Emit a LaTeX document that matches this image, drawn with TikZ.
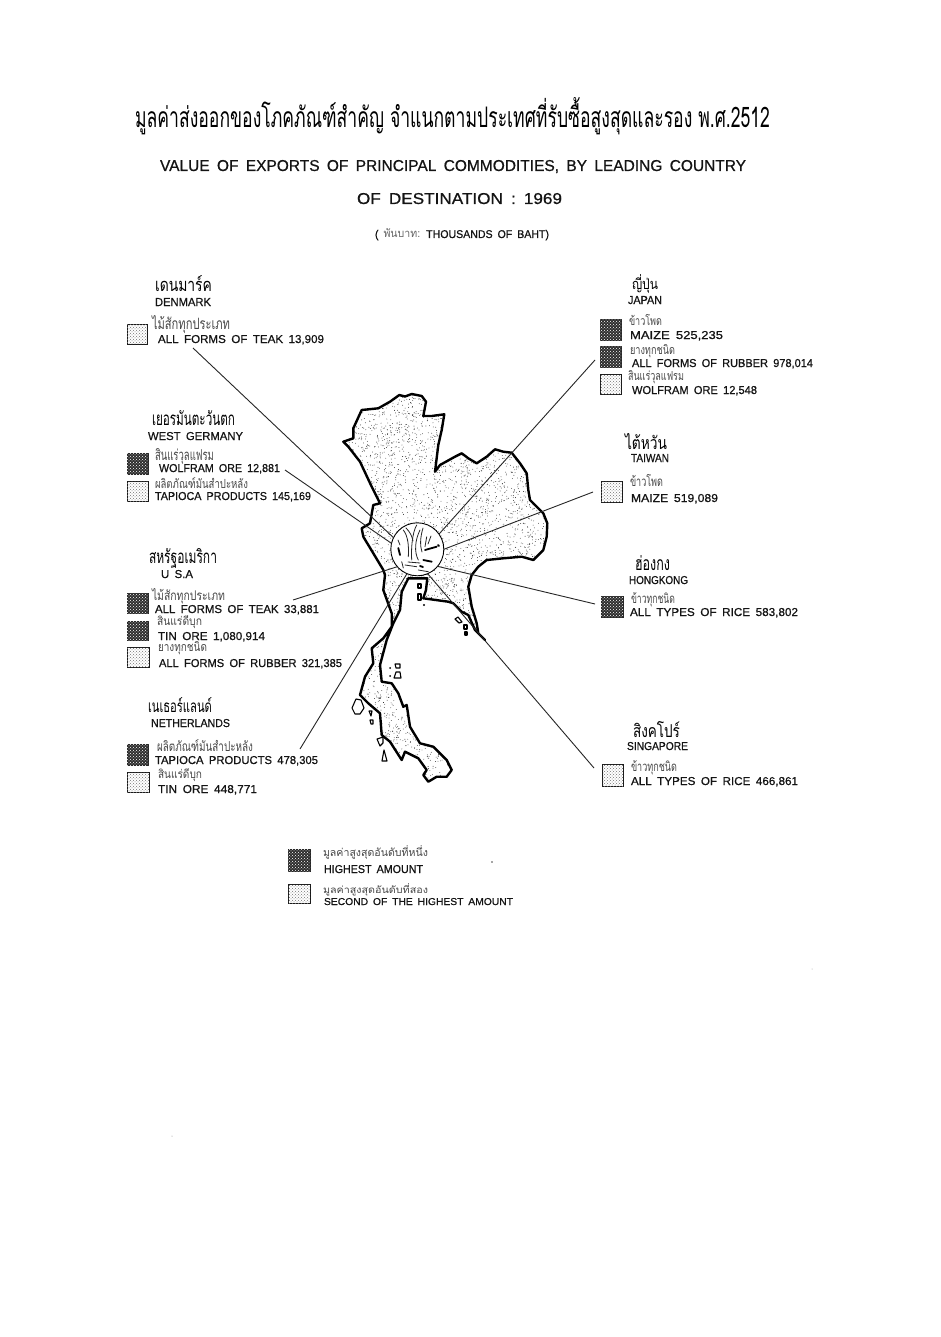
\documentclass[tikz,border=0pt]{standalone}
\usepackage{fontspec}
\usepackage{graphicx}
\usetikzlibrary{patterns}
\setmainfont[WordSpace=1.7,FakeBold=0.7]{Liberation Sans}
\newfontfamily\thaifont[Script=Thai]{Loma}
\tikzset{
  textlab/.style={inner sep=0pt,outer sep=0pt,anchor=base west,text=black!92},
  thailab/.style={inner sep=0pt,outer sep=0pt,anchor=base west,text=black!72},
  thaihead/.style={inner sep=0pt,outer sep=0pt,anchor=base west,text=black},
  swatchdark/.style={inner sep=0pt,outer sep=0pt,draw=black!85,line width=.6pt,fill=black!82,
     postaction={pattern=crosshatch dots,pattern color=white}},
  swatchlight/.style={inner sep=0pt,outer sep=0pt,draw=black!90,line width=1pt,fill=white,
     postaction={pattern=crosshatch dots,pattern color=black!55}},
  leader/.style={line width=.9pt,black!85},
  coast/.style={line width=2.4pt,line join=round,black},
  isle/.style={line width=1.1pt,line join=round,black,fill=white},
  scribble/.style={line width=.8pt,line cap=round,black!85},
  scribblethick/.style={line width=1.8pt,line cap=round,black}
}
% name, x, baseline, width, height, text
\newcommand\latlab[6]{\node[textlab] (#1) at (#2,#3) {\resizebox{#4pt}{#5pt}{#6}};}
\newcommand\thailabel[6]{\node[thailab] (#1) at (#2,{#3-2}) {\resizebox{#4pt}{\numexpr#5-2\relax pt}{\thaifont #6}};}
\newcommand\thaititle[6]{\node[thaihead] (#1) at (#2,#3) {\resizebox{#4pt}{#5pt}{\thaifont #6}};}
% name, style, x, y, w, h
\newcommand\swatchbox[6]{\node[#2,minimum width=#5pt,minimum height=#6pt] (#1) at ({#3+#5/2},{#4+#6/2}) {};}
\newcommand\mapoutline{(399.3,395) -- (405,396.5) -- (411.7,394) -- (421.7,396) -- (426,401.7) -- (423.3,416) -- (431.7,416) -- (444.3,414.3) -- (441.7,430) -- (438.3,445) -- (435,471.7) -- (440,465) -- (455,456.7) -- (461.7,453.3) -- (468.3,458.3) -- (476.7,463.3) -- (486.7,456.7) -- (495,449.3) -- (503.3,451.7) -- (511.7,452.7) -- (520,463.3) -- (526.7,473.3) -- (528.3,490) -- (530,500) -- (543.3,513.3) -- (547.3,523.3) -- (546.7,536.7) -- (543.3,550) -- (533.3,560) -- (521.7,556.7) -- (503.3,558.3) -- (486.7,560) -- (478.3,566.7) -- (471.7,575) -- (468.3,586.7) -- (471.7,606.7) -- (476.7,623.3) -- (478.3,633.3) -- (485,640) -- (475,630) -- (468.3,615) -- (461.7,611.7) -- (453.3,603.3) -- (448.3,601.7) -- (423.3,598.3) -- (426,590) -- (427.3,578.3) -- (408.3,578.3) -- (401.7,591.7) -- (400,610) -- (393.3,623.3) -- (386.7,640) -- (380,665) -- (381.7,681.7) -- (391.7,683.3) -- (398.3,693.3) -- (403.3,706.7) -- (406.7,705) -- (410,726.7) -- (420,743.3) -- (433.3,746.7) -- (446.7,760) -- (451.7,770) -- (446.7,776.7) -- (436.7,776.7) -- (428.3,781.7) -- (423.3,775) -- (426.7,770) -- (418.3,758.3) -- (405,751.7) -- (401.7,760) -- (390,741.7) -- (381.7,735) -- (380,713.3) -- (368.3,703.3) -- (360,695) -- (365,676.7) -- (373.3,663.3) -- (371.7,648.3) -- (383.3,638.3) -- (391.7,626.7) -- (391.7,613.3) -- (383.3,590) -- (385,575) -- (383.3,570) -- (373.3,553.3) -- (363.3,536.7) -- (361.7,528.3) -- (370,523.3) -- (373.3,505) -- (380,503.3) -- (376.7,496.7) -- (371.7,486.7) -- (360,461.7) -- (348.3,446.7) -- (343.3,441.7) -- (353.3,438.3) -- (353.3,428.3) -- (361.7,410) -- (378.3,408.3) -- (390,401.7) -- cycle}
\begin{document}
\begin{tikzpicture}[x=1pt,y=-1pt]
\useasboundingbox (0,0) rectangle (941,1337);
\fill[white] (0,0) rectangle (941,1337);
% map
\begin{scope}
  \clip \mapoutline;
  \pgfmathsetseed{4217}
  \foreach \i in {1,...,6500}{
    \fill[black!85] ({340+210*rnd},{390+400*rnd}) circle (.42pt);
  }
\end{scope}
\draw[coast] \mapoutline;
% islands
\draw[isle] (352,708) -- (356,699) -- (361,700) -- (364,708) -- (360,714) -- (355,714) -- cycle;
\draw[isle] (369,711) -- (372,711) -- (371,716) -- cycle;
\draw[isle] (370,720) -- (373,720) -- (373,724) -- (371,724) -- cycle;
\draw[isle] (377,739) -- (383,737) -- (383,743) -- (380,746) -- cycle;
\draw[isle] (382,761) -- (384,750) -- (387,761) -- cycle;
\draw[isle] (395,664) -- (400,664) -- (400,668) -- (396,668) -- cycle;
\draw[isle] (394,678) -- (396,672) -- (400,672) -- (401,678) -- cycle;
\fill (390,668) circle (1pt);
\fill (390,676) circle (1pt);
\draw[isle] (418,584) -- (421,584) -- (421,588) -- (418,588) -- cycle;
\draw[isle] (418,594) -- (421,594) -- (421,600) -- (418,600) -- cycle;
\fill (424,605) circle (1.2pt);
\draw[isle] (455,619) -- (458,617) -- (462,622) -- (459,623) -- cycle;
\draw[isle] (464,625) -- (467,625) -- (467,629) -- (464,629) -- cycle;
\draw[isle] (465,632) -- (467,632) -- (467,635) -- (465,635) -- cycle;
% hub circle
\node[circle,draw=black,line width=.9pt,fill=white,minimum size=53pt,inner sep=0pt,outer sep=0pt] (hub) at (417.3,549.3) {};
\draw[scribble] (403.3,530) .. controls (408,536) and (409,546) .. (408.3,556.7);
\draw[scribble] (416.7,525) .. controls (412,533) and (411,550) .. (411.7,560);
\draw[scribble] (420,530) .. controls (415,540) and (414,552) .. (418.3,560);
\draw[scribble] (406,528) .. controls (410,532) and (412,536) .. (413,541);
\draw[scribble] (423,528) .. controls (420,538) and (420,546) .. (422,552);
\draw[scribble] (426.7,536.7) -- (425,546.7);
\draw[scribble] (431,536) -- (428,544);
\draw[scribble] (405,565) -- (416.7,566.7);
\draw[scribble] (401.7,561.7) -- (403.3,568);
\draw[scribble] (418.3,570) -- (428.3,571.7);
\draw[scribble] (398,540) -- (400,545);
\draw[scribble] (408,562) -- (420,563);
\draw[scribblethick] (398.3,548) -- (400,555);
\draw[scribblethick] (425,550) -- (436.7,546.7);
\draw[scribblethick] (423.3,560) -- (431.7,561.7);
\draw[scribblethick] (438,545) -- (439,546);
\draw[scribblethick] (420,566) -- (423,567);
% title block
\thaititle{titleth}{135}{128}{635}{30}{มูลค่าส่งออกของโภคภัณฑ์สำคัญ จำแนกตามประเทศที่รับซื้อสูงสุดและรอง พ.ศ.2512}
\latlab{titleone}{160}{171}{586}{11}{VALUE OF EXPORTS OF PRINCIPAL COMMODITIES, BY LEADING COUNTRY}
\latlab{titletwo}{357}{204}{205}{11}{OF DESTINATION : 1969}
\node[textlab] (unit) at (375,238) {\resizebox{174pt}{9pt}{( {\thaifont\color{black!60}พันบาท:} THOUSANDS OF BAHT)}};
% Denmark
\thaititle{dkth}{155}{291}{57}{16}{เดนมาร์ค}
\latlab{dken}{155}{306}{56}{8}{DENMARK}
\swatchbox{dksw}{swatchlight}{127}{324}{20}{20}
\thailabel{dkath}{152}{331}{78}{16}{ไม้สักทุกประเภท}
\latlab{dkaen}{158}{343}{166}{8}{ALL FORMS OF TEAK 13,909}
% West Germany
\thaititle{deth}{152}{425}{83}{15}{เยอรมันตะวันตก}
\latlab{deen}{148}{440}{95}{8}{WEST GERMANY}
\swatchbox{deasw}{swatchdark}{127}{453}{21}{21}
\thailabel{death}{155}{462}{59}{14}{สินแร่วุลแฟรม}
\latlab{deaen}{159}{472}{121}{8}{WOLFRAM ORE 12,881}
\swatchbox{debsw}{swatchlight}{127}{481}{21}{20}
\thailabel{debth}{155}{490}{93}{13}{ผลิตภัณฑ์มันสำปะหลัง}
\latlab{deben}{155}{500}{156}{8}{TAPIOCA PRODUCTS 145,169}
% USA
\thaititle{usth}{149}{563}{68}{15}{สหรัฐอเมริกา}
\latlab{usen}{161}{578}{32}{8}{U S.A}
\swatchbox{usasw}{swatchdark}{127}{593}{21}{20}
\thailabel{usath}{152}{602}{73}{14}{ไม้สักทุกประเภท}
\latlab{usaen}{155}{613}{164}{8}{ALL FORMS OF TEAK 33,881}
\swatchbox{usbsw}{swatchdark}{127}{621}{21}{19}
\thailabel{usbth}{157}{627}{45}{12}{สินแร่ดีบุก}
\latlab{usben}{158}{640}{107}{8}{TIN ORE 1,080,914}
\swatchbox{uscsw}{swatchlight}{127}{647}{22}{20}
\thailabel{uscth}{158}{653}{49}{12}{ยางทุกชนิด}
\latlab{uscen}{159}{667}{183}{8}{ALL FORMS OF RUBBER 321,385}
% Netherlands
\thaititle{nlth}{148}{712}{64}{15}{เนเธอร์แลนด์}
\latlab{nlen}{151}{727}{79}{8}{NETHERLANDS}
\swatchbox{nlasw}{swatchdark}{127}{744}{21}{21}
\thailabel{nlath}{157}{753}{96}{14}{ผลิตภัณฑ์มันสำปะหลัง}
\latlab{nlaen}{155}{764}{163}{8}{TAPIOCA PRODUCTS 478,305}
\swatchbox{nlbsw}{swatchlight}{127}{772}{22}{20}
\thailabel{nlbth}{158}{780}{44}{12}{สินแร่ดีบุก}
\latlab{nlben}{158}{793}{99}{8}{TIN ORE 448,771}
% Japan
\thaititle{jpth}{632}{290}{26}{15}{ญี่ปุ่น}
\latlab{jpen}{628}{304}{34}{8}{JAPAN}
\swatchbox{jpasw}{swatchdark}{600}{319}{21}{21}
\thailabel{jpath}{629}{327}{33}{13}{ข้าวโพด}
\latlab{jpaen}{630}{339}{93}{8}{MAIZE 525,235}
\swatchbox{jpbsw}{swatchdark}{600}{346}{21}{21}
\thailabel{jpbth}{630}{356}{45}{12}{ยางทุกชนิด}
\latlab{jpben}{632}{367}{181}{8}{ALL FORMS OF RUBBER 978,014}
\swatchbox{jpcsw}{swatchlight}{600}{374}{21}{20}
\thailabel{jpcth}{628}{382}{56}{12}{สินแร่วุลแฟรม}
\latlab{jpcen}{632}{394}{125}{8}{WOLFRAM ORE 12,548}
% Taiwan
\thaititle{twth}{625}{449}{42}{16}{ไต้หวัน}
\latlab{twen}{631}{462}{38}{8}{TAIWAN}
\swatchbox{twasw}{swatchlight}{601}{481}{21}{21}
\thailabel{twath}{630}{488}{33}{14}{ข้าวโพด}
\latlab{twaen}{631}{502}{87}{8}{MAIZE 519,089}
% Hongkong
\thaititle{hkth}{635}{570}{35}{15}{ฮ่องกง}
\latlab{hken}{629}{584}{59}{8}{HONGKONG}
\swatchbox{hkasw}{swatchdark}{601}{596}{22}{21}
\thailabel{hkath}{631}{605}{44}{13}{ข้าวทุกชนิด}
\latlab{hkaen}{630}{616}{168}{8}{ALL TYPES OF RICE 583,802}
% Singapore
\thaititle{sgth}{633}{737}{47}{16}{สิงคโปร์}
\latlab{sgen}{627}{750}{61}{8}{SINGAPORE}
\swatchbox{sgasw}{swatchlight}{602}{764}{21}{22}
\thailabel{sgath}{631}{773}{46}{13}{ข้าวทุกชนิด}
\latlab{sgaen}{631}{785}{167}{8}{ALL TYPES OF RICE 466,861}
% legend
\swatchbox{legasw}{swatchdark}{288}{849}{22}{22}
\thailabel{legath}{323}{858}{105}{13}{มูลค่าสูงสุดอันดับที่หนึ่ง}
\latlab{legaen}{324}{873}{99}{8}{HIGHEST AMOUNT}
\swatchbox{legbsw}{swatchlight}{288}{884}{22}{19}
\thailabel{legbth}{323}{895}{105}{12}{มูลค่าสูงสุดอันดับที่สอง}
\latlab{legben}{324}{905}{189}{7}{SECOND OF THE HIGHEST AMOUNT}
% connector free ends
\coordinate (dkend) at (193,348);
\coordinate (deend) at (285,470);
\coordinate (usend) at (293,600);
\coordinate (nlend) at (300,749);
\coordinate (jpend) at (595,360);
\coordinate (twend) at (593,492);
\coordinate (hkend) at (595,604);
\coordinate (sgend) at (594,768);
% connectors
\draw[leader] (dkend) -- (hub.154);
\draw[leader] (deend) -- (hub.167);
\draw[leader] (usend) -- (hub.221);
\draw[leader] (nlend) -- (hub.247);
\draw[leader] (jpend) -- (hub.35);
\draw[leader] (twend) -- (hub.0);
\draw[leader] (hkend) -- (hub.-40);
\draw[leader] (sgend) -- (hub.-67);
% specks of the print
\fill[black!70] (492,862) circle (.8pt);
\fill[black!35] (812,969) circle (.5pt);
\fill[black!45] (172,1136) circle (.5pt);
\end{tikzpicture}
\end{document}
